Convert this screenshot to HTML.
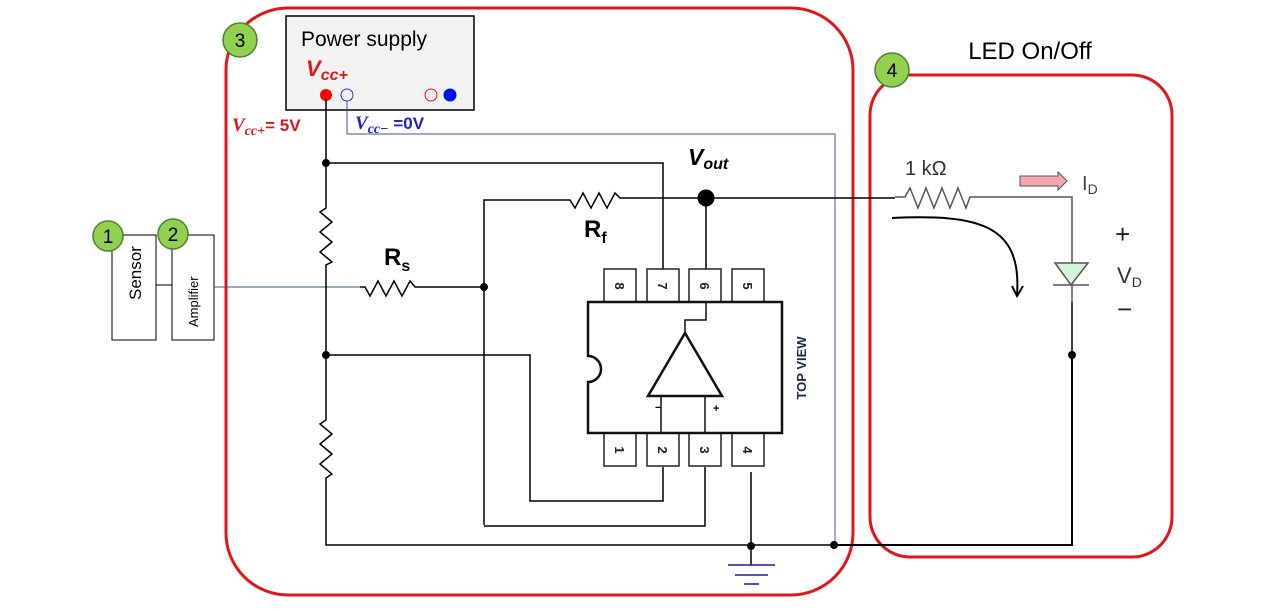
<!DOCTYPE html>
<html><head><meta charset="utf-8"><style>
body{margin:0;background:#fff;}
svg text{font-family:"Liberation Sans",sans-serif;}
</style></head><body>
<svg width="1280" height="605" viewBox="0 0 1280 605" xmlns="http://www.w3.org/2000/svg">
<rect x="226" y="8" width="627" height="587" rx="62" fill="none" stroke="#e0161b" stroke-width="3"/>
<rect x="870" y="75" width="302" height="482" rx="40" fill="none" stroke="#e0161b" stroke-width="3"/>
<text x="1030" y="59" font-size="24" text-anchor="middle">LED On/Off</text>

<line x1="156" y1="285" x2="172" y2="285" stroke="#000"/>
<rect x="112" y="235" width="44" height="105" fill="#fff" stroke="#000"/>
<rect x="172" y="235" width="42" height="105" fill="#fff" stroke="#000"/>
<text transform="translate(141,300) rotate(-90)" font-size="17">Sensor</text>
<text transform="translate(198,327) rotate(-90)" font-size="13">Amplifier</text>
<line x1="214" y1="287" x2="360" y2="287" stroke="#3a5a7a"/>

<rect x="286" y="16" width="188" height="94" fill="#f2f2f2" stroke="#000" stroke-width="1.5"/>
<text x="301" y="46" font-size="21">Power supply</text>
<text x="306" y="76" font-size="22" fill="#e0161b" font-style="italic" font-weight="bold" font-family="Liberation Serif,serif">V<tspan font-size="16" dy="4">cc+</tspan></text>
<circle cx="326" cy="95" r="6" fill="#f00"/>
<circle cx="347" cy="95" r="6" fill="none" stroke="#3030d0"/>
<circle cx="431" cy="95" r="6" fill="none" stroke="#e0161b"/>
<circle cx="450" cy="95" r="6.5" fill="#0010f0"/>
<text x="232" y="131" font-size="17" fill="#e0161b" font-weight="bold"><tspan font-style="italic" font-family="Liberation Serif,serif" font-size="19">V</tspan><tspan font-size="14" dy="4" font-style="italic" font-family="Liberation Serif,serif">cc+</tspan><tspan dy="-4">= 5V</tspan></text>
<text x="355" y="129" font-size="17" fill="#2020c0" font-weight="bold"><tspan font-style="italic" font-family="Liberation Serif,serif" font-size="19">V</tspan><tspan font-size="14" dy="4" font-style="italic" font-family="Liberation Serif,serif">cc−</tspan><tspan dy="-4"> =0V</tspan></text>

<polyline points="347,101 347,134 835,134 835,545" fill="none" stroke="#3a5a8a"/>

<g stroke="#000" fill="none" stroke-width="1.5">
<polyline points="326,100 326,208 320,212 332,222 320,232 332,242 320,252 332,262 326,265 326,420 320,424 332,434 320,444 332,454 320,464 332,474 326,478 326,545 835,545"/>
<polyline points="835,545 1072,545 1072,302" stroke-width="2"/>
<polyline points="326,163 663,163 663,270"/>
<polyline points="360,287 365,287 370,296 378,281 386,296 394,281 402,296 410,281 415,287 484,287"/>
<polyline points="484,525 484,200 565,200 570,200 575,208 583,193 591,208 599,193 607,208 615,193 620,198 706,198 706,270"/>
<polyline points="706,198 895,198"/>
<polyline points="895,197 905,197 910,188 918,208 926,188 934,208 942,188 950,208 958,188 966,208 970,197 1072,197 1072,263" stroke="#555" stroke-width="1.5"/>
<line x1="1072" y1="285" x2="1072" y2="355" stroke="#555"/>
<polyline points="663,467 663,501 530,501 530,355 326,355"/>
<polyline points="705,467 705,526 484,526"/>
<polyline points="751,472 751,565"/>
</g>
<g stroke="#1a1aa0" stroke-width="1.5">
<line x1="728" y1="565" x2="775" y2="565"/><line x1="735" y1="575" x2="768" y2="575"/><line x1="744" y1="584" x2="759" y2="584"/>
</g>
<g fill="#000">
<circle cx="326" cy="163" r="4"/><circle cx="326" cy="355" r="4"/><circle cx="484" cy="287" r="4"/>
<circle cx="706" cy="198" r="8.5"/><circle cx="751" cy="546" r="4"/><circle cx="834" cy="545" r="4"/>
<circle cx="1072" cy="355" r="4"/>
</g>
<text x="584" y="237" font-size="24" font-weight="bold">R<tspan font-size="16" dy="6">f</tspan></text>
<text x="384" y="265" font-size="24" font-weight="bold">R<tspan font-size="16" dy="6">s</tspan></text>
<text x="688" y="165" font-size="23" font-weight="bold" font-style="italic">V<tspan font-size="16" dy="4">out</tspan></text>

<g stroke="#222" stroke-width="1.5" fill="#fff">
<rect x="604" y="269" width="32" height="33"/><rect x="647" y="269" width="32" height="33"/><rect x="689" y="269" width="32" height="33"/><rect x="732" y="269" width="32" height="33"/>
<rect x="604" y="433" width="32" height="33"/><rect x="647" y="433" width="32" height="33"/><rect x="689" y="433" width="32" height="33"/><rect x="732" y="433" width="32" height="33"/>
</g>
<path d="M588,302 H782 V433 H588 V382 A13,13 0 0 0 588,356 Z" fill="#fff" stroke="#111" stroke-width="2.5"/>
<polygon points="685,333 648,396 722,396" fill="none" stroke="#111" stroke-width="2.5"/>
<polyline points="685,333 685,320 706,320 706,302" fill="none" stroke="#111" stroke-width="1.5"/>
<line x1="661" y1="396" x2="661" y2="433" stroke="#111" stroke-width="1.5"/>
<line x1="705" y1="396" x2="705" y2="433" stroke="#111" stroke-width="1.5"/>
<text x="655" y="411" font-size="11" font-weight="bold">−</text>
<text x="713" y="412" font-size="11" font-weight="bold">+</text>
<g font-size="13" font-weight="bold" fill="#222">
<text transform="translate(615,286) rotate(90)" text-anchor="middle">8</text>
<text transform="translate(658,286) rotate(90)" text-anchor="middle">7</text>
<text transform="translate(700,286) rotate(90)" text-anchor="middle">6</text>
<text transform="translate(743,286) rotate(90)" text-anchor="middle">5</text>
<text transform="translate(615,450) rotate(90)" text-anchor="middle">1</text>
<text transform="translate(658,450) rotate(90)" text-anchor="middle">2</text>
<text transform="translate(700,450) rotate(90)" text-anchor="middle">3</text>
<text transform="translate(743,450) rotate(90)" text-anchor="middle">4</text>
</g>
<text transform="translate(806,368) rotate(-90)" text-anchor="middle" font-size="13" font-weight="bold" fill="#1a2a4a">TOP VIEW</text>

<text x="905" y="175" font-size="20" fill="#333">1 kΩ</text>
<polygon points="1020,176 1058,176 1058,172 1067,181 1058,190 1058,186 1020,186" fill="#f4a6ae" stroke="#555"/>
<text x="1082" y="190" font-size="20" fill="#444">I<tspan font-size="14" dy="4">D</tspan></text>
<polygon points="1055,263 1088,263 1071,285" fill="#d6f5d6" stroke="#555" stroke-width="1.5"/>
<line x1="1053" y1="285" x2="1089" y2="285" stroke="#555" stroke-width="1.5"/>
<text x="1115" y="243" font-size="26" fill="#222">+</text>
<text x="1117" y="283" font-size="22" fill="#333">V<tspan font-size="14" dy="4">D</tspan></text>
<text x="1117" y="318" font-size="26" fill="#222">−</text>
<path d="M892,218 C980,214 1022,225 1017,295" fill="none" stroke="#000" stroke-width="2"/>
<polyline points="1012,286 1017,296 1023,286" fill="none" stroke="#000" stroke-width="2"/>

<g fill="#92d050" stroke="#507e32" stroke-width="1.5">
<circle cx="108" cy="236" r="15"/><circle cx="173" cy="234" r="15"/><circle cx="240" cy="40" r="17"/><circle cx="892" cy="70" r="17"/>
</g>
<g font-size="19" text-anchor="middle">
<text x="108" y="243">1</text><text x="173" y="241">2</text><text x="240" y="47">3</text><text x="892" y="77">4</text>
</g>
</svg>
</body></html>
